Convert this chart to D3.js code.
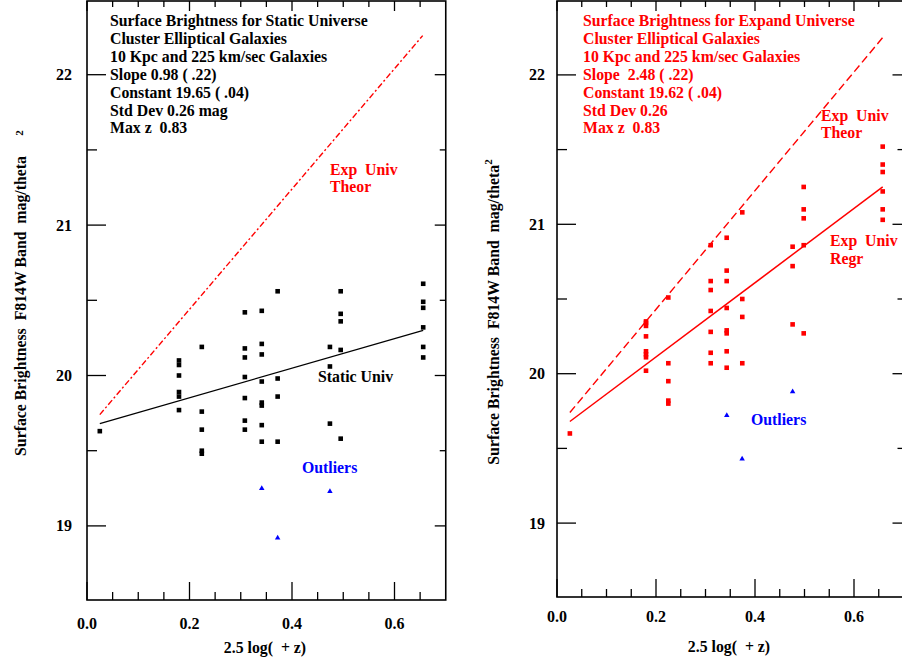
<!DOCTYPE html>
<html><head><meta charset="utf-8">
<script src="https://cdn.jsdelivr.net/npm/d3@7"></script>
<style>
html,body{margin:0;padding:0;background:#fff;}
svg{display:block;font-family:"Liberation Serif","Times New Roman",serif;font-weight:bold;}
</style></head>
<body>
<svg id="chart" width="902" height="661"></svg>
<script>
// ---------- DATA ----------
// Left panel: static universe
const staticX = [0.025,
  0.1795,0.1795,0.1795,0.1795,0.1795,0.1795,
  0.224,0.224,0.224,0.224,0.224,
  0.308,0.308,0.308,0.308,0.308,0.308,0.308,
  0.341,0.341,0.341,0.341,0.341,0.341,0.341,0.341,
  0.372,0.372,0.372,0.372,
  0.474,0.474,0.474,
  0.495,0.495,0.495,0.495,0.495,
  0.656,0.656,0.656,0.656,0.656,0.656];
const staticY = [19.63,
  20.10,20.07,20.00,19.89,19.86,19.77,
  20.19,19.76,19.64,19.50,19.48,
  20.42,20.18,20.12,19.99,19.85,19.70,19.64,
  20.43,20.21,20.14,19.96,19.82,19.80,19.67,19.56,
  20.56,19.98,19.86,19.56,
  20.19,20.06,19.68,
  20.56,20.41,20.36,20.17,19.58,
  20.61,20.49,20.45,20.32,20.19,20.12];
const staticOutX = [0.341, 0.372, 0.474];
const staticOutY = [19.25, 18.92, 19.23];
const staticRegrX = [0.025, 0.656];
const staticRegrY = [19.68, 20.30];

// Right panel: expanding universe
const expandX = [0.026,
  0.1798,0.1798,0.1798,0.1798,0.1798,0.1798,0.1798,0.1798,
  0.2249,0.2249,0.2249,0.2249,0.2249,
  0.3105,0.3105,0.3105,0.3105,0.3105,0.3105,0.3105,
  0.3428,0.3428,0.3428,0.3428,0.3428,0.3428,0.3428,0.3428,
  0.3743,0.3743,0.3743,0.3743,
  0.476,0.476,0.476,
  0.4984,0.4984,0.4984,0.4984,0.4984,
  0.658,0.658,0.658,0.658,0.658,0.658];
const expandY = [19.60,
  20.35,20.34,20.32,20.25,20.15,20.13,20.11,20.02,
  20.51,20.07,19.95,19.82,19.80,
  20.86,20.62,20.56,20.42,20.28,20.14,20.07,
  20.91,20.69,20.62,20.44,20.29,20.27,20.15,20.04,
  21.08,20.50,20.38,20.07,
  20.85,20.72,20.33,
  21.25,21.10,21.04,20.86,20.27,
  21.52,21.40,21.35,21.22,21.10,21.03];
const expandOutX = [0.343, 0.374, 0.476];
const expandOutY = [19.72, 19.43, 19.88];
const expandRegrX = [0.026, 0.658];
const expandRegrY = [19.68, 21.25];

// Theoretical expanding-universe line (both panels)
const theorLeftX = [0.025, 0.655];
const theorLeftY = [19.74, 22.26];
const theorRightX = [0.026, 0.658];
const theorRightY = [19.74, 22.25];

// Ticks
const xMajorTicks = [0.0, 0.2, 0.4, 0.6];
const xMinorTicks = [0.05,0.1,0.15,0.25,0.3,0.35,0.45,0.5,0.55,0.65];
const yMajorTicks = [19, 20, 21, 22];
const yMinorTicks = [18.5, 19.5, 20.5, 21.5];

const leftNotes = ["Surface Brightness for Static Universe","Cluster Elliptical Galaxies",
  "10 Kpc and 225 km/sec Galaxies","Slope 0.98 ( .22)","Constant 19.65 ( .04)",
  "Std Dev 0.26 mag","Max z  0.83"];
const rightNotes = ["Surface Brightness for Expand Universe","Cluster Elliptical Galaxies",
  "10 Kpc and 225 km/sec Galaxies","Slope  2.48 ( .22)","Constant 19.62 ( .04)",
  "Std Dev 0.26","Max z  0.83"];

const RED = "#ff0000", BLUE = "#0000ff";
const FS = 15.8;
const svg = d3.select("#chart");

function zip(xs, ys){ return xs.map((x,i)=>[x, ys[i]]); }

function panel(cfg){
  const x = d3.scaleLinear().domain([0, 0.7]).range([cfg.x0, cfg.x0 + 0.7*cfg.xk]);
  const y = d3.scaleLinear().domain([19, 22]).range([cfg.y19, cfg.y22]);
  const g = svg.append("g");
  const L = cfg.x0, R = x(0.7), T = 1, B = cfg.bottom;

  // ticks
  const tk = g.append("g").attr("stroke","#000").attr("stroke-width",1.3);
  xMajorTicks.forEach(v=>{
    tk.append("line").attr("x1",x(v)).attr("x2",x(v)).attr("y1",B).attr("y2",B-18);
    tk.append("line").attr("x1",x(v)).attr("x2",x(v)).attr("y1",T).attr("y2",T+10);
  });
  xMinorTicks.forEach(v=>{
    tk.append("line").attr("x1",x(v)).attr("x2",x(v)).attr("y1",B).attr("y2",B-8);
    tk.append("line").attr("x1",x(v)).attr("x2",x(v)).attr("y1",T).attr("y2",T+6);
  });
  yMajorTicks.forEach(v=>{
    tk.append("line").attr("x1",L).attr("x2",L+19).attr("y1",y(v)).attr("y2",y(v));
    tk.append("line").attr("x1",R).attr("x2",R-11).attr("y1",y(v)).attr("y2",y(v));
  });
  yMinorTicks.forEach(v=>{
    if (y(v) > B-2 || y(v) < T+2) return;
    tk.append("line").attr("x1",L).attr("x2",L+10).attr("y1",y(v)).attr("y2",y(v));
    tk.append("line").attr("x1",R).attr("x2",R-6).attr("y1",y(v)).attr("y2",y(v));
  });

  // frame
  g.append("rect").attr("x",L).attr("y",T).attr("width",R-L).attr("height",B-T)
    .attr("fill","none").attr("stroke","#000").attr("stroke-width",1.6);

  // tick labels
  xMajorTicks.forEach(v=>{
    g.append("text").attr("x",x(v)).attr("y",cfg.xLabY).attr("text-anchor","middle")
      .attr("font-size",16).text(d3.format(".1f")(v));
  });
  yMajorTicks.forEach(v=>{
    g.append("text").attr("x",cfg.yLabX).attr("y",y(v)+5.5).attr("text-anchor","middle")
      .attr("font-size",16).text(v);
  });
  g.append("text").attr("x",cfg.xTitleX).attr("y",cfg.xTitleY).attr("text-anchor","middle")
    .attr("font-size",FS).attr("xml:space","preserve").text("2.5 log(  + z)");

  // y title
  const yt = g.append("text").attr("transform",`translate(${cfg.yTitleX},${cfg.yTitleY}) rotate(-90)`)
    .attr("text-anchor","middle").attr("font-size",FS).attr("xml:space","preserve");
  yt.append("tspan").text("Surface Brightness  F814W Band  mag/theta");
  if (cfg.supAttached){
    yt.append("tspan").attr("dy",-7).attr("font-size",11).text("2");
  } else {
    g.append("text").attr("transform",`translate(${cfg.yTitleX-3},${cfg.supY}) rotate(-90)`)
      .attr("text-anchor","middle").attr("font-size",11).text("2");
  }

  // lines
  const line = d3.line().x(d=>x(d[0])).y(d=>y(d[1]));
  g.append("path").datum(zip(cfg.theorX, cfg.theorY)).attr("d",line)
    .attr("fill","none").attr("stroke",RED).attr("stroke-width",1.4)
    .attr("stroke-dasharray",cfg.theorDash);
  g.append("path").datum(zip(cfg.regrX, cfg.regrY)).attr("d",line)
    .attr("fill","none").attr("stroke",cfg.color).attr("stroke-width",cfg.regrW);

  // points
  const s = 4.6;
  g.append("g").selectAll("rect").data(zip(cfg.px, cfg.py)).join("rect")
    .attr("x",d=>x(d[0])-s/2).attr("y",d=>y(d[1])-s/2).attr("width",s).attr("height",s)
    .attr("fill",cfg.color);
  const tri = d3.symbol().type(d3.symbolTriangle).size(13);
  g.append("g").selectAll("path").data(zip(cfg.ox, cfg.oy)).join("path")
    .attr("transform",d=>`translate(${x(d[0])},${y(d[1])})`).attr("d",tri).attr("fill",BLUE);

  // notes
  cfg.notes.forEach((t,i)=>{
    g.append("text").attr("x",cfg.noteX).attr("y",26 + i*17.9).attr("font-size",FS)
      .attr("fill",cfg.color).attr("xml:space","preserve").text(t);
  });
  cfg.labels.forEach(l=>{
    g.append("text").attr("x",l.x).attr("y",l.y).attr("font-size",FS)
      .attr("fill",l.c).attr("xml:space","preserve").text(l.t);
  });
}

panel({x0:87, xk:512.5, y19:525.9, y22:74.7, bottom:600,
  xLabY:628.5, yLabX:64, xTitleX:265, xTitleY:653, yTitleX:26, yTitleY:306, supAttached:false, supY:133,
  theorX:theorLeftX, theorY:theorLeftY, theorDash:"6,2.5,2,2.5",
  regrX:staticRegrX, regrY:staticRegrY, regrW:1.2, color:"#000",
  px:staticX, py:staticY, ox:staticOutX, oy:staticOutY,
  noteX:110, notes:leftNotes,
  labels:[{x:330,y:175,t:"Exp  Univ",c:RED},{x:330,y:192,t:"Theor",c:RED},
          {x:318,y:382,t:"Static Univ",c:"#000"},{x:302,y:473,t:"Outliers",c:BLUE}]});

panel({x0:557, xk:495, y19:523.1, y22:74.9, bottom:597,
  xLabY:622, yLabX:537, xTitleX:729, xTitleY:652, yTitleX:499, yTitleY:312, supAttached:true,
  theorX:theorRightX, theorY:theorRightY, theorDash:"8,4",
  regrX:expandRegrX, regrY:expandRegrY, regrW:1.5, color:RED,
  px:expandX, py:expandY, ox:expandOutX, oy:expandOutY,
  noteX:583, notes:rightNotes,
  labels:[{x:821,y:121,t:"Exp  Univ",c:RED},{x:821,y:138,t:"Theor",c:RED},
          {x:830,y:246,t:"Exp  Univ",c:RED},{x:830,y:264,t:"Regr",c:RED},
          {x:751,y:425,t:"Outliers",c:BLUE}]});
</script>
</body></html>
